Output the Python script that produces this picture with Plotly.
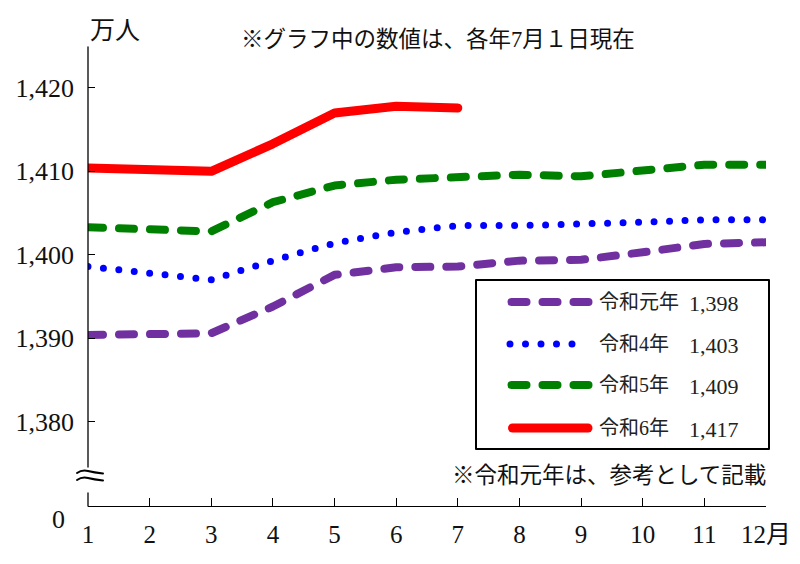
import plotly.graph_objects as go

# ---------------- data ----------------
months = list(range(1, 13))
month_labels = ["1", "2", "3", "4", "5", "6", "7", "8", "9", "10", "11", "12月"]

reiwa1 = [1390.4, 1390.6, 1390.6, 1393.8, 1397.6, 1398.5, 1398.6, 1399.3, 1399.4, 1400.3, 1401.3, 1401.5]
reiwa4 = [1398.6, 1397.8, 1397.0, 1399.3, 1401.4, 1402.7, 1403.5, 1403.5, 1403.6, 1403.9, 1404.2, 1404.2]
reiwa5 = [1403.3, 1403.1, 1402.8, 1406.3, 1408.3, 1409.0, 1409.2, 1409.6, 1409.4, 1410.0, 1410.8, 1410.8]
reiwa6 = [1410.4, 1410.2, 1410.0, 1413.3, 1417.0, 1417.8, 1417.6]

series_names = ["令和元年", "令和4年", "令和5年", "令和6年"]
july_values = ["1,398", "1,403", "1,409", "1,417"]

ytick_vals = [1380, 1390, 1400, 1410, 1420]
ytick_text = ["1,380", "1,390", "1,400", "1,410", "1,420"]

# ---------------- styles ----------------
SERIF = "Liberation Serif, Noto Sans CJK JP, serif"
JP = "Liberation Serif, Noto Sans CJK JP, sans-serif"
colors = ["#7030A0", "#0000FF", "#008000", "#FF0000"]
widths = [8, 7, 8, 9]
dashes = ["15px,16px", "0px,15.5px", "15px,16px", "solid"]

W, H = 800, 564
L, R, T, B = 88, 34, 47, 58
PW, PH = W - L - R, H - T - B


def px(x):
    return (x - L) / PW


def py(y):
    return (H - B - y) / PH


fig = go.Figure()
all_series = [reiwa1, reiwa4, reiwa5, reiwa6]
for name, vals, c, w, d in zip(series_names, all_series, colors, widths, dashes):
    fig.add_trace(go.Scatter(
        x=months[:len(vals)], y=vals, mode="lines", name=name,
        line=dict(color=c, width=w, dash=d), showlegend=False,
        hoverinfo="x+y",
    ))

shapes = []
# y axis with break
shapes.append(dict(type="line", xref="paper", yref="paper", x0=0, x1=0,
                   y0=py(467), y1=1, line=dict(color="black", width=1.3)))
shapes.append(dict(type="line", xref="paper", yref="paper", x0=0, x1=0,
                   y0=0, y1=py(493), line=dict(color="black", width=1.3)))


def wave(y0):
    pts = [(77, y0 + 1), (82, y0 - 2.5), (88, y0 - 1), (93, y0 + 1.5), (98, y0 + 2.5), (103, y0 + 1.5)]
    p = "M{:.5f},{:.5f}".format(px(pts[0][0]), py(pts[0][1]))
    p += " Q{:.5f},{:.5f} {:.5f},{:.5f}".format(px(pts[1][0]), py(pts[1][1]), px(pts[2][0]), py(pts[2][1]))
    p += " T{:.5f},{:.5f}".format(px(pts[5][0]), py(pts[5][1]))
    return p


for yy in (472, 479):
    shapes.append(dict(type="path", xref="paper", yref="paper", path=wave(yy),
                       line=dict(color="black", width=2)))

# legend box
shapes.append(dict(type="rect", xref="paper", yref="paper",
                   x0=px(476), x1=px(769), y0=py(449), y1=py(280),
                   line=dict(color="black", width=2), fillcolor="white", layer="above"))

legend_rows = [302, 344, 385, 428]
sample_x = [(511.5, 589), (510, 574), (511.5, 589), (512.5, 588)]
annotations = []
for i, yy in enumerate(legend_rows):
    x0, x1 = sample_x[i]
    shapes.append(dict(type="line", xref="paper", yref="paper",
                       x0=px(x0), x1=px(x1), y0=py(yy), y1=py(yy), layer="above",
                       line=dict(color=colors[i], width=widths[i], dash=dashes[i])))
    annotations.append(dict(xref="paper", yref="paper", x=px(597), y=py(yy),
                            text=series_names[i], showarrow=False, xanchor="left", yanchor="middle",
                            font=dict(family=JP, size=20, color="#222")))
    annotations.append(dict(xref="paper", yref="paper", x=px(687), y=py(yy + 1),
                            text=july_values[i], showarrow=False, xanchor="left", yanchor="middle",
                            font=dict(family=SERIF, size=22, color="#222")))

annotations += [
    dict(xref="paper", yref="paper", x=px(115), y=py(30), text="万人", showarrow=False,
         xanchor="center", yanchor="middle", font=dict(family=JP, size=25, color="#111")),
    dict(xref="paper", yref="paper", x=px(438), y=py(40), text="※グラフ中の数値は、各年7月１日現在",
         showarrow=False, xanchor="center", yanchor="middle", font=dict(family=JP, size=22.5, color="#111")),
    dict(xref="paper", yref="paper", x=px(609), y=py(475), text="※令和元年は、参考として記載",
         showarrow=False, xanchor="center", yanchor="middle", font=dict(family=JP, size=22.5, color="#111")),
    dict(xref="paper", yref="paper", x=px(58), y=py(519), text="0", showarrow=False,
         xanchor="center", yanchor="middle", font=dict(family=SERIF, size=26, color="#111")),
]

fig.update_layout(
    template="none",
    width=W, height=H,
    margin=dict(l=L, r=R, t=T, b=B, pad=0),
    plot_bgcolor="white", paper_bgcolor="white",
    shapes=shapes, annotations=annotations,
    xaxis=dict(range=[1, 12], tickvals=months, ticktext=month_labels,
               showgrid=False, zeroline=False, showline=True, linecolor="black", linewidth=1.3,
               ticks="inside", ticklen=8, tickcolor="black", tickwidth=1.3,
               tickfont=dict(family=SERIF, size=25, color="#111"), ticklabelstandoff=6,
               automargin=False, fixedrange=True),
    yaxis=dict(range=[1369.9, 1424.9], tickvals=ytick_vals, ticktext=ytick_text,
               showgrid=False, zeroline=False, showline=False,
               ticks="inside", ticklen=7, tickcolor="black", tickwidth=1.3,
               tickfont=dict(family=SERIF, size=26, color="#111"), ticklabelstandoff=13,
               automargin=False, fixedrange=True),
)

post = """
document.body.style.margin = '0';
document.body.style.padding = '0';
var s = document.createElement('style');
s.textContent = 'body { margin: 0 !important; } .js-line, .shapelayer path { stroke-linecap: round !important; stroke-linejoin: round !important; }';
document.head.appendChild(s);
"""
fig.write_html("out.html", post_script=post, config={"displayModeBar": False})
